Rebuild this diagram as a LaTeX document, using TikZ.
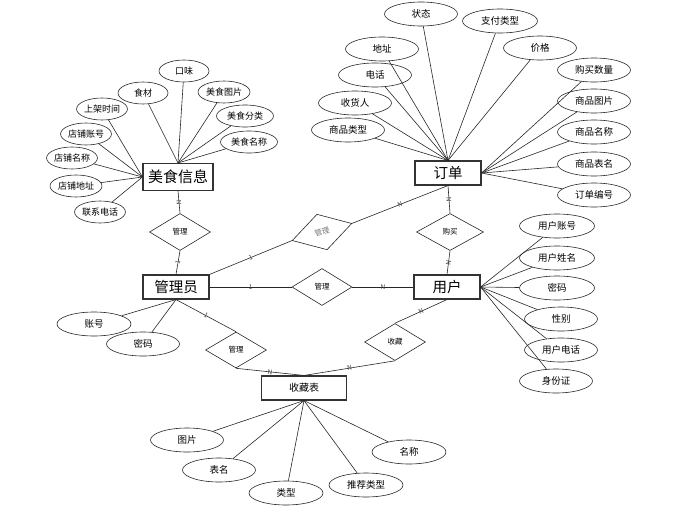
\documentclass[tikz,border=0pt]{standalone}
\usepackage{fontspec}
\setmainfont{Noto Sans CJK SC}
\usetikzlibrary{shapes.geometric}
\begin{document}
\begin{tikzpicture}[x=1pt, y=-1pt,
  every path/.style={line width=0.6pt, black!85},
  ent/.style={draw, line width=1.1pt, black!80, text=black, minimum width=66pt, minimum height=24pt, inner sep=0pt, font=\fontsize{14.5}{14.5}\selectfont},
  rel/.style={diamond, draw, aspect=1.6, minimum width=61pt, minimum height=37pt, inner sep=0pt, text=black, font=\fontsize{7.5}{7.5}\selectfont},
  attr/.style={ellipse, draw, minimum width=73pt, minimum height=24pt, inner sep=0pt, text=black, font=\fontsize{9.5}{9.5}\selectfont},
  sattr/.style={attr, minimum width=50pt, minimum height=22pt, font=\fontsize{9}{9}\selectfont},
  card/.style={sloped, inner sep=0pt, text=black!75, font=\fontsize{6.5}{6.5}\selectfont}]
  \useasboundingbox (0,0) rectangle (680,506);
  % entities
  \node[ent, minimum width=70pt, minimum height=27pt, font=\fontsize{15}{15}\selectfont] (mshi) at (178,177) {美食信息};
  \node[ent] (dd)  at (448,173) {订单};
  \node[ent] (gly) at (176,287) {管理员};
  \node[ent] (yh)  at (447,287) {用户};
  \node[ent, minimum width=85pt, font=\fontsize{10}{10}\selectfont] (sc) at (304,388) {收藏表};
  % relations
  \node[rel] (gl1) at (180,232) {管理};
  \node[rel, rotate=16, minimum width=62pt, text=black!55] (gl3) at (322,232) {管理};
  \node[rel, minimum width=67pt] (gm) at (450,232) {购买};
  \node[rel, minimum width=60pt] (gl2) at (322,287) {管理};
  \node[rel, minimum height=36pt] (gl4) at (236,350) {管理};
  \node[rel] (scd) at (395,342) {收藏};
  % 美食信息
  \node[sattr] (ms1) at (143,93)  {食材};
  \node[sattr] (ms2) at (184,71)  {口味};
  \node[sattr, minimum width=52pt] (ms3) at (224,92) {美食图片};
  \node[sattr, minimum width=57pt] (ms4) at (245,116) {美食分类};
  \node[sattr, minimum width=57pt] (ms5) at (249,142) {美食名称};
  \node[sattr] (ms6) at (102,109) {上架时间};
  \node[sattr] (ms7) at (86,134)  {店铺账号};
  \node[sattr] (ms8) at (72,158)  {店铺名称};
  \node[sattr, minimum width=52pt] (ms9) at (76,186) {店铺地址};
  \node[sattr] (ms10) at (100,212) {联系电话};
  % 订单
  \node[attr] (dd1) at (421,14)  {状态};
  \node[attr, minimum width=75pt] (dd2) at (500,21) {支付类型};
  \node[attr] (dd3) at (382,49)  {地址};
  \node[attr] (dd4) at (540,48)  {价格};
  \node[attr] (dd5) at (375,75)  {电话};
  \node[attr] (dd6) at (355,103) {收货人};
  \node[attr] (dd7) at (348,130) {商品类型};
  \node[attr] (dd8) at (594,70)  {购买数量};
  \node[attr] (dd9) at (594,101) {商品图片};
  \node[attr] (dd10) at (594,132) {商品名称};
  \node[attr] (dd11) at (594,164) {商品表名};
  \node[attr] (dd12) at (594,195) {订单编号};
  % 用户
  \node[attr, minimum width=75pt] (yh1) at (557,226) {用户账号};
  \node[attr, minimum width=75pt] (yh2) at (557,258) {用户姓名};
  \node[attr, minimum width=75pt] (yh3) at (557,288) {密码};
  \node[attr] (yh4) at (561,319) {性别};
  \node[attr] (yh5) at (561,350) {用户电话};
  \node[attr] (yh6) at (556,381) {身份证};
  % 管理员
  \node[attr, minimum width=74pt] (gly1) at (94,324)  {账号};
  \node[attr] (gly2) at (143,344) {密码};
  % 收藏表
  \node[attr] (sc1) at (187,440) {图片};
  \node[attr] (sc2) at (219,470) {表名};
  \node[attr, minimum width=74pt] (sc3) at (286,493) {类型};
  \node[attr, minimum width=74pt] (sc4) at (366,485) {推荐类型};
  \node[attr, minimum width=74pt] (sc5) at (409,452) {名称};
  % attribute lines
  \foreach \a in {ms1,ms2,ms3,ms4,ms5} \draw (\a) -- (mshi.north);
  \foreach \a in {ms6,ms7,ms8,ms9,ms10} \draw (\a) -- (mshi.west);
  \foreach \a in {dd1,dd2,dd3,dd4,dd5,dd6,dd7} \draw (\a) -- (dd.north);
  \foreach \a in {dd8,dd9,dd10,dd11,dd12} \draw (\a) -- (dd.east);
  \foreach \a in {yh1,yh2,yh3,yh4,yh5,yh6} \draw (\a) -- (yh.east);
  \foreach \a in {gly1,gly2} \draw (\a) -- (gly.south);
  \foreach \a in {sc1,sc2,sc3,sc4,sc5} \draw (\a) -- (sc.south);
  % relation lines
  \draw (mshi.south) -- node[card]{N} (gl1.north);
  \draw (gl1.south) -- node[card]{1} (gly.north);
  \draw (gly.east) -- node[card]{1} (gl2.west);
  \draw (gl2.east) -- node[card]{N} (yh.west);
  \draw (yh.north) -- node[card]{N} (gm.south);
  \draw (gm.north) -- node[card]{N} (dd.south);
  \draw (gly.north east) -- node[card]{1} (gl3.west);
  \draw (gl3.east) -- node[card]{N} (dd.south);
  \draw (gly.south) -- node[card]{1} (gl4.north);
  \draw (gl4.south) -- node[card]{N} (sc.north);
  \draw (yh.south) -- node[card]{N} (scd.north);
  \draw (scd.south) -- node[card]{N} (sc.north);
\end{tikzpicture}
\end{document}
